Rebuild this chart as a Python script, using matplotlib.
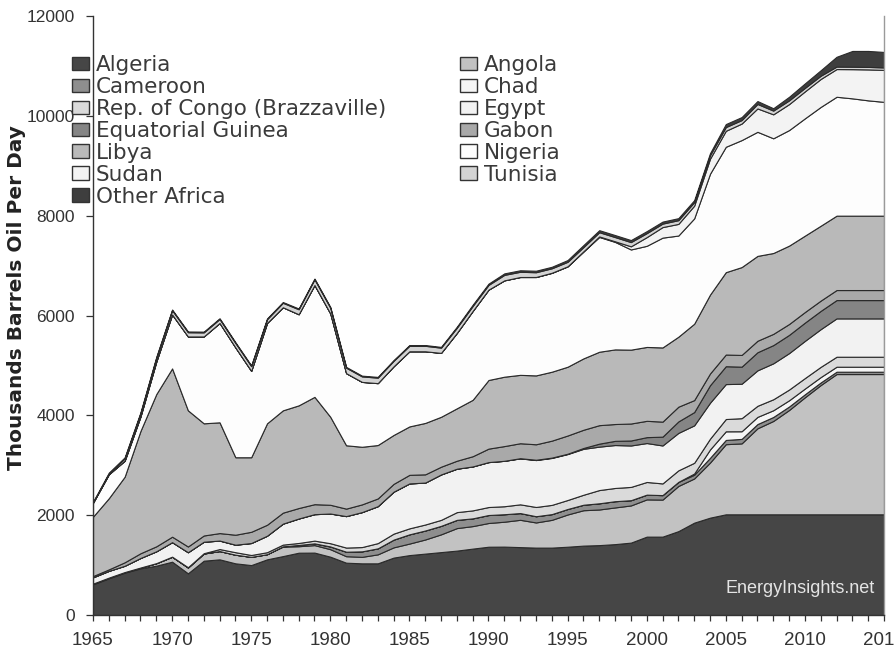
import matplotlib
matplotlib.use("Agg")
import matplotlib.pyplot as plt
from matplotlib.patches import Patch
from matplotlib import font_manager

years = list(range(1965, 2016))

algeria = [615, 735, 848, 935, 988, 1068, 835, 1088, 1115, 1035,
           1000, 1115, 1180, 1248, 1250, 1168, 1048, 1035, 1035, 1150,
           1200, 1230, 1260, 1290, 1330, 1368, 1370, 1360, 1350, 1350,
           1368, 1390, 1400, 1420, 1450, 1570, 1570, 1680, 1850, 1950,
           2017, 2017, 2017, 2017, 2017, 2017, 2017, 2017, 2017, 2017, 2017]
angola = [13, 13, 11, 15, 50, 100, 117, 144, 166, 173,
          165, 103, 190, 130, 150, 150, 130, 130, 180, 205,
          231, 283, 356, 451, 451, 475, 499, 547, 504, 556,
          646, 709, 714, 735, 745, 746, 742, 905, 885, 1103,
          1405, 1421, 1723, 1870, 2090, 2345, 2590, 2810, 2810, 2810, 2810]
cameroon = [0, 0, 0, 0, 0, 0, 0, 0, 0, 0,
            0, 0, 5, 25, 35, 55, 90, 110, 120, 155,
            185, 180, 170, 165, 155, 160, 150, 135, 125, 115,
            110, 110, 124, 125, 105, 95, 90, 82, 75, 95,
            85, 90, 85, 80, 70, 60, 52, 47, 47, 47, 47]
chad = [0] * 38 + [24, 168, 173, 153, 144, 135, 125, 115, 108, 100, 100, 100, 100]
congo = [1, 1, 1, 1, 1, 1, 5, 6, 40, 50,
         37, 40, 35, 40, 55, 65, 83, 86, 105, 120,
         120, 120, 120, 155, 160, 160, 160, 175, 185, 185,
         180, 200, 265, 265, 266, 254, 234, 231, 215, 216,
         246, 262, 222, 220, 215, 210, 205, 200, 200, 200, 200]
egypt = [126, 135, 126, 191, 237, 290, 300, 230, 170, 150,
         240, 330, 420, 490, 530, 595, 630, 700, 740, 840,
         900, 840, 910, 870, 880, 900, 910, 920, 940, 940,
         920, 920, 870, 860, 830, 780, 760, 750, 750, 720,
         700, 690, 710, 720, 730, 745, 755, 768, 768, 768, 768]
eq_guinea = [0] * 27 + [4, 6, 7, 7, 17, 60, 84, 100, 118, 177, 230, 266, 351,
                        358, 342, 363, 365, 365, 366, 366, 367, 367, 367, 367]
gabon = [25, 30, 70, 95, 100, 110, 115, 125, 150, 200,
         225, 220, 220, 210, 200, 175, 150, 155, 155, 157,
         172, 165, 155, 160, 205, 270, 295, 300, 310, 340,
         365, 365, 370, 337, 340, 327, 301, 295, 240, 235,
         234, 235, 230, 225, 218, 212, 206, 201, 201, 201, 201]
libya = [1190, 1426, 1714, 2450, 3050, 3371, 2728, 2247, 2219, 1552,
         1493, 2032, 2050, 2057, 2150, 1762, 1269, 1154, 1070, 980,
         970, 1030, 1000, 1050, 1130, 1375, 1390, 1370, 1380, 1381,
         1378, 1430, 1471, 1495, 1480, 1480, 1486, 1402, 1530, 1580,
         1650, 1760, 1700, 1620, 1570, 1530, 1500, 1490, 1490, 1490, 1490]
nigeria = [280, 480, 320, 290, 650, 1080, 1480, 1740, 1990, 2200,
           1730, 2010, 2065, 1825, 2240, 2070, 1445, 1300, 1240, 1375,
           1505, 1435, 1280, 1510, 1780, 1810, 1930, 1960, 1970, 1980,
           2010, 2140, 2300, 2153, 2007, 2026, 2200, 2027, 2110, 2421,
           2512, 2544, 2486, 2298, 2315, 2350, 2380, 2382, 2350, 2310, 2280]
sudan = [0] * 28 + [2, 2, 2, 5, 10, 12, 63, 174, 211, 233, 255, 301,
                    320, 331, 468, 480, 520, 540, 560, 555, 585, 620, 640]
tunisia = [0, 12, 48, 63, 75, 85, 85, 82, 80, 90,
           95, 75, 90, 100, 115, 115, 110, 110, 110, 110,
           110, 110, 105, 105, 100, 95, 110, 105, 95, 90,
           90, 85, 85, 85, 85, 80, 70, 75, 70, 70,
           75, 70, 90, 75, 75, 70, 65, 50, 50, 50, 50]
other_africa = [20, 20, 20, 20, 20, 15, 15, 15, 15, 15,
                15, 15, 15, 15, 15, 15, 15, 15, 15, 15,
                15, 15, 15, 20, 25, 25, 30, 30, 30, 30,
                35, 40, 40, 40, 40, 40, 40, 40, 40, 40,
                60, 60, 58, 47, 72, 90, 110, 196, 315, 320, 310]

names = ["Algeria", "Angola", "Cameroon", "Chad", "Rep. of Congo (Brazzaville)",
         "Egypt", "Equatorial Guinea", "Gabon", "Libya", "Nigeria", "Sudan",
         "Tunisia", "Other Africa"]
series = [algeria, angola, cameroon, chad, congo, egypt, eq_guinea, gabon,
          libya, nigeria, sudan, tunisia, other_africa]
colors = ["#464646", "#c2c2c2", "#8e8e8e", "#f5f5f5", "#dadada", "#f2f2f2",
          "#858585", "#a9a9a9", "#b9b9b9", "#fdfdfd", "#f3f3f3", "#d3d3d3", "#3e3e3e"]

avail = {f.name for f in font_manager.fontManager.ttflist}
narrow = "Liberation Sans Narrow" if "Liberation Sans Narrow" in avail else "Liberation Sans"

plt.rcParams["font.family"] = ["Liberation Sans", "DejaVu Sans"]

W, H = 894, 649
fig = plt.figure(figsize=(W / 100, H / 100), dpi=100)
ax = fig.add_axes([93 / W, 34 / H, 791 / W, 599 / H])

ax.stackplot(years, *series, colors=colors, edgecolor="#2a2a2a", linewidth=0.8)

ax.set_xlim(1965, 2015)
ax.set_ylim(0, 12000)
ax.set_xticks(years)
ax.set_xticklabels([str(y) if y % 5 == 0 else "" for y in years])
ax.set_yticks(range(0, 12001, 2000))
ax.tick_params(axis="x", direction="out", length=4, width=0.9, color="#333333",
               labelsize=13.5, labelcolor="#333333", pad=8)
ax.tick_params(axis="y", direction="out", length=5, width=0.9, color="#333333",
               labelsize=12.5, labelcolor="#333333", pad=8)
ax.spines["top"].set_visible(False)
ax.spines["right"].set_color("#9a9a9a")
ax.spines["right"].set_linewidth(1.0)
for s in ("left", "bottom"):
    ax.spines[s].set_color("#333333")
    ax.spines[s].set_linewidth(1.0)

fig.text(17 / W, 1 - 298 / H, "Thousands Barrels Oil Per Day", rotation=90,
         ha="center", va="center", fontsize=14.5, fontweight="bold",
         family=["DejaVu Sans"], color="#222222")

ax.text(0.988, 0.045, "EnergyInsights.net", transform=ax.transAxes,
        ha="right", va="center", fontsize=13, color="#e4e4e4",
        family=[narrow, "Liberation Sans"])

handles = [Patch(facecolor=c, edgecolor="#333333", linewidth=1.0) for c in colors]
left_idx = [0, 2, 4, 6, 8, 10, 12]
right_idx = [1, 3, 5, 7, 9, 11]
common = dict(frameon=False, loc="upper left", borderpad=0, borderaxespad=0,
              handlelength=0.79, handleheight=0.58, handletextpad=0.31,
              labelspacing=0.09, prop={"family": "DejaVu Sans", "size": 15.5},
              labelcolor="#3a3a3a")
leg1 = fig.legend([handles[i] for i in left_idx], [names[i] for i in left_idx],
                  bbox_to_anchor=(72 / W, 1 - 55 / H), **common)
leg2 = fig.legend([handles[i] for i in right_idx], [names[i] for i in right_idx],
                  bbox_to_anchor=(460 / W, 1 - 55 / H), **common)

fig.savefig("out.png", dpi=100)
